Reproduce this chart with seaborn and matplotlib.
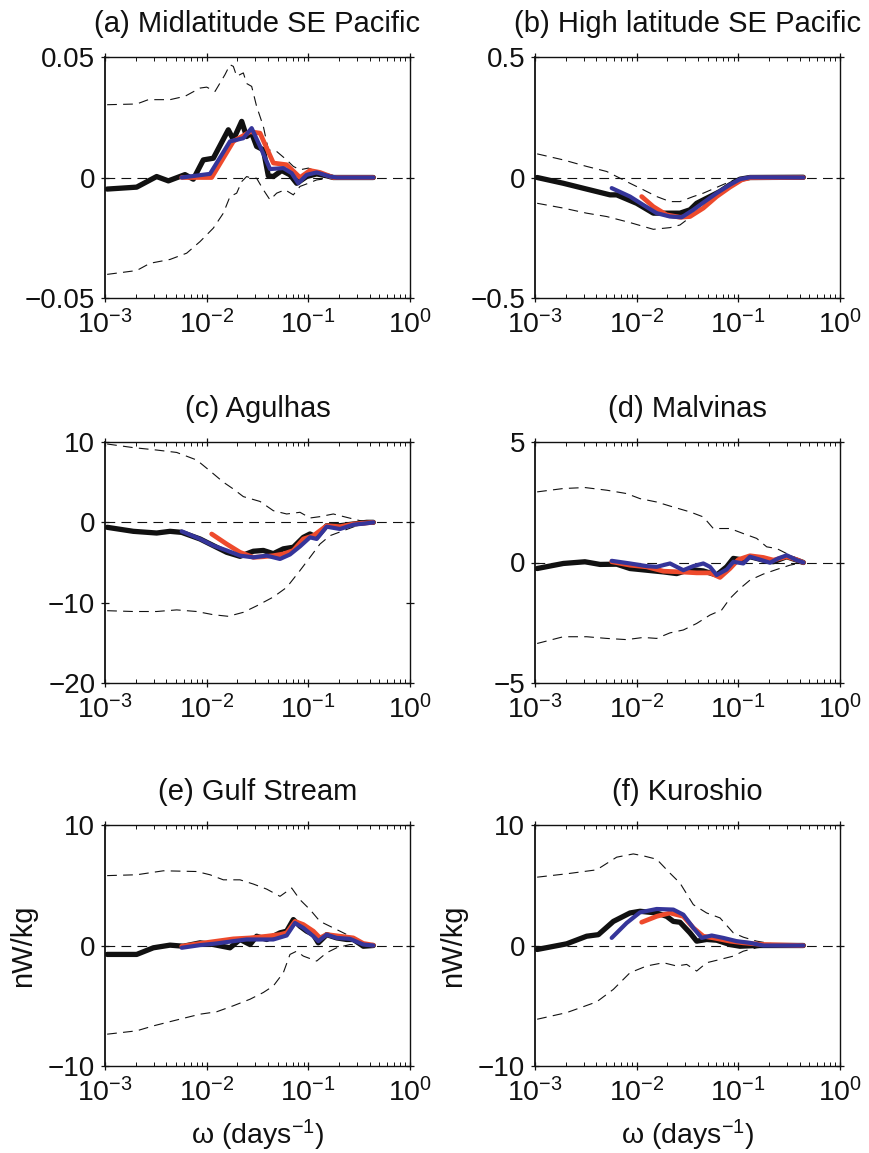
import matplotlib
matplotlib.use("Agg")
import matplotlib.pyplot as plt
from matplotlib.ticker import LogLocator, FixedLocator, FixedFormatter, NullFormatter, NullLocator
import seaborn as sns

sns.set_theme(style="ticks")
plt.rcParams["font.family"] = ["Liberation Sans", "DejaVu Sans"]
plt.rcParams["mathtext.default"] = "regular"
plt.rcParams["lines.scale_dashes"] = False

# ---------------------------------------------------------------------------
# Spectral energy transfer (nW/kg) against frequency (days^-1)
# obs: black, model A: red, model B: blue, bounds: thin dashed
# ---------------------------------------------------------------------------

# (a) Midlatitude SE Pacific
a_obs_f = [0.00105, 0.00205, 0.00322, 0.0042, 0.00612, 0.00739, 0.00927, 0.01163, 0.01633, 0.0183,
           0.0221, 0.0247, 0.0277, 0.0310, 0.0361, 0.0404, 0.0453, 0.0547, 0.0660, 0.0768,
           0.0963, 0.1208, 0.1515, 0.1761, 0.4357]
a_obs = [-0.0048, -0.0040, 0.0004, -0.0014, 0.0012, -0.0007, 0.0073, 0.0080, 0.0198, 0.0157,
         0.0233, 0.0170, 0.0184, 0.0129, 0.0115, 0.0007, 0.0004, 0.0029, 0.0011, -0.0024,
         0.0004, 0.0015, 0.0007, 0.0, 0.0]
a_red_f = [0.00568, 0.0112, 0.0183, 0.0267, 0.0335, 0.0453, 0.0612, 0.0828, 0.1038, 0.1302, 0.1761, 0.4357]
a_red = [0.0, 0.0, 0.0150, 0.0190, 0.0184, 0.0060, 0.0053, 0.0, 0.0029, 0.0021, 0.0, 0.0]
a_blue_f = [0.00568, 0.01078, 0.01696, 0.02295, 0.0277, 0.0335, 0.0420, 0.0568, 0.0686, 0.0797,
            0.0963, 0.1208, 0.1633, 0.19, 0.4357]
a_blue = [0.0, 0.0015, 0.0150, 0.0163, 0.0205, 0.0129, 0.0035, 0.0039, 0.0018, -0.0024,
          0.0011, 0.0021, 0.0004, 0.0, 0.0]
a_hi_f = [0.00105, 0.00205, 0.00267, 0.00436, 0.00612, 0.0086, 0.0100, 0.01208, 0.01515, 0.01696,
          0.0183, 0.01973, 0.02295, 0.02473, 0.02771, 0.0310, 0.0361, 0.0404, 0.0488, 0.0612,
          0.0712, 0.0828, 0.1, 0.1208, 0.1633, 0.2049, 0.4357]
a_hi = [0.0302, 0.0305, 0.0323, 0.0323, 0.0337, 0.0371, 0.0375, 0.0357, 0.0427, 0.0468,
        0.0461, 0.0420, 0.0434, 0.0390, 0.0378, 0.0295, 0.0212, 0.0115, 0.0108, 0.0073,
        0.0046, 0.0032, 0.0039, 0.0025, 0.0007, 0.0, 0.0]
a_lo_f = [0.00105, 0.00205, 0.00277, 0.00436, 0.00636, 0.0086, 0.01163, 0.01459, 0.01696, 0.01973,
          0.0221, 0.02473, 0.02771, 0.0310, 0.0361, 0.0420, 0.0488, 0.05895, 0.0712, 0.0828,
          0.1, 0.1208, 0.1633, 0.2049, 0.4357]
a_lo = [-0.0402, -0.0386, -0.0356, -0.0340, -0.0314, -0.0266, -0.0210, -0.0148, -0.0079, -0.0065,
        -0.0017, 0.0004, -0.0003, -0.0003, -0.0051, -0.0093, -0.0065, -0.0051, -0.0072, -0.0037,
        -0.0024, -0.0010, -0.0003, 0.0, 0.0]

# (b) High latitude SE Pacific
b_obs_f = [0.00105, 0.0019, 0.00322, 0.00547, 0.00636, 0.0100, 0.01459, 0.02128, 0.02668, 0.03346,
           0.03892, 0.05264, 0.06602, 0.08279, 0.1038, 0.1302, 0.4357]
b_obs = [0.0, -0.024, -0.048, -0.072, -0.072, -0.107, -0.148, -0.148, -0.148, -0.134,
         -0.107, -0.079, -0.058, -0.030, -0.007, 0.0, 0.001]
b_red_f = [0.0112, 0.01459, 0.01973, 0.02668, 0.03346, 0.04525, 0.06121, 0.08279, 0.1078, 0.1302, 0.4357]
b_red = [-0.079, -0.121, -0.155, -0.165, -0.162, -0.127, -0.079, -0.040, -0.010, -0.001, 0.0]
b_blue_f = [0.00568, 0.0086, 0.01163, 0.01573, 0.02128, 0.02771, 0.03609, 0.04525, 0.06121, 0.08279,
            0.1038, 0.1302, 0.4357]
b_blue = [-0.044, -0.079, -0.114, -0.148, -0.162, -0.165, -0.134, -0.104, -0.065, -0.030,
          -0.007, 0.001, 0.0]
b_hi_f = [0.00105, 0.0019, 0.00322, 0.00507, 0.0086, 0.01163, 0.01573, 0.02128, 0.02668, 0.03609,
          0.04525, 0.06602, 0.08279, 0.1038, 0.1302, 0.4357]
b_hi = [0.098, 0.073, 0.046, 0.025, -0.024, -0.051, -0.079, -0.100, -0.100, -0.079,
        -0.065, -0.035, -0.017, 0.0, 0.004, 0.0]
b_lo_f = [0.00105, 0.0019, 0.00322, 0.00507, 0.0086, 0.01459, 0.02128, 0.02668, 0.03609, 0.0488,
          0.06602, 0.08279, 0.1038, 0.1302, 0.4357]
b_lo = [-0.107, -0.127, -0.148, -0.162, -0.187, -0.215, -0.208, -0.197, -0.155, -0.107,
        -0.058, -0.024, -0.007, 0.0, 0.0]

# (c) Agulhas
c_obs_f = [0.00105, 0.0019, 0.00322, 0.00436, 0.00568, 0.0086, 0.01163, 0.01573, 0.02128, 0.02877,
           0.03609, 0.04525, 0.05676, 0.0712, 0.08929, 0.1038, 0.1208, 0.1515, 0.2049, 0.2771,
           0.3748, 0.4357]
c_obs = [-0.62, -1.12, -1.33, -1.12, -1.25, -2.07, -2.90, -3.73, -4.23, -3.60,
         -3.50, -3.90, -3.30, -3.10, -1.87, -1.45, -1.87, -0.42, -0.42, -0.21,
         0.0, 0.0]
c_red_f = [0.0112, 0.01573, 0.02128, 0.02877, 0.03609, 0.04525, 0.05676, 0.0712, 0.08929, 0.1120,
           0.1515, 0.2049, 0.2771, 0.4357]
c_red = [-1.45, -2.70, -3.73, -4.36, -4.28, -4.15, -3.94, -3.50, -2.07, -1.66,
         -0.42, -0.54, -0.21, 0.0]
c_blue_f = [0.00568, 0.0086, 0.01163, 0.01573, 0.02128, 0.02877, 0.03892, 0.05264, 0.06602, 0.08279,
            0.1038, 0.1208, 0.1515, 0.2049, 0.2771, 0.3748, 0.4357]
c_blue = [-1.12, -2.07, -2.90, -3.50, -4.15, -4.36, -4.15, -4.56, -4.00, -3.00,
          -1.87, -2.07, -0.54, -0.83, -0.29, -0.12, 0.0]
c_hi_f = [0.00105, 0.0019, 0.00322, 0.00507, 0.00797, 0.01078, 0.01459, 0.0183, 0.02295, 0.03346,
          0.04525, 0.06121, 0.08279, 0.1038, 0.1302, 0.1761, 0.2382, 0.3222, 0.4357]
c_hi = [9.75, 9.30, 9.00, 8.70, 7.76, 6.40, 5.00, 4.15, 3.20, 2.60,
        1.45, 1.04, 1.25, 0.54, 0.71, 1.04, 0.62, 0.21, 0.0]
c_lo_f = [0.00105, 0.0019, 0.00322, 0.00507, 0.00797, 0.01163, 0.01633, 0.02295, 0.03103, 0.04525,
          0.06121, 0.08279, 0.1038, 0.1302, 0.1633, 0.2210, 0.2988, 0.4357]
c_lo = [-11.0, -11.1, -11.1, -10.9, -11.1, -11.5, -11.7, -11.2, -10.4, -9.3,
        -8.1, -6.0, -4.36, -2.70, -1.66, -1.04, -0.42, 0.0]

# (d) Malvinas
d_obs_f = [0.00105, 0.0019, 0.0031, 0.00436, 0.00636, 0.0086, 0.01254, 0.0183, 0.02473, 0.03346,
           0.04525, 0.06121, 0.07677, 0.08929, 0.1120, 0.1302, 0.1761, 0.2210, 0.2988, 0.3748,
           0.4357]
d_obs = [-0.25, -0.04, 0.03, -0.08, -0.07, -0.25, -0.32, -0.39, -0.46, -0.29,
         -0.35, -0.52, -0.18, 0.17, 0.10, 0.24, 0.10, 0.03, 0.24, 0.10,
         0.0]
d_red_f = [0.00568, 0.0086, 0.01254, 0.0183, 0.02668, 0.03892, 0.05264, 0.06602, 0.08279, 0.1,
           0.1302, 0.1761, 0.2210, 0.2988, 0.3748, 0.4357]
d_red = [0.03, -0.11, -0.18, -0.36, -0.39, -0.43, -0.43, -0.62, -0.25, 0.12,
         0.28, 0.21, 0.10, 0.24, 0.12, 0.0]
d_blue_f = [0.00568, 0.0086, 0.01254, 0.01573, 0.02128, 0.02877, 0.03609, 0.04525, 0.05264, 0.06121,
            0.07677, 0.08929, 0.1120, 0.1302, 0.1633, 0.2049, 0.2473, 0.2988, 0.3748, 0.4357]
d_blue = [0.07, -0.04, -0.15, -0.18, -0.04, -0.32, -0.15, -0.04, -0.18, -0.52,
          -0.29, 0.03, -0.04, 0.24, 0.12, -0.01, 0.17, 0.30, 0.10, 0.0]
d_hi_f = [0.00105, 0.0019, 0.0031, 0.00507, 0.00797, 0.01078, 0.01573, 0.02295, 0.03346, 0.04525,
          0.05676, 0.08279, 0.1120, 0.1515, 0.19, 0.2382, 0.2988, 0.3748, 0.4357]
d_hi = [2.93, 3.07, 3.11, 3.00, 2.86, 2.65, 2.51, 2.30, 2.10, 1.89,
        1.41, 1.41, 1.20, 1.00, 0.65, 0.58, 0.37, 0.17, 0.0]
d_lo_f = [0.00105, 0.0019, 0.00322, 0.00507, 0.00797, 0.01163, 0.01573, 0.02128, 0.02877, 0.03892,
          0.05264, 0.06856, 0.08279, 0.1038, 0.1302, 0.1761, 0.2382, 0.3222, 0.4357]
d_lo = [-3.36, -3.08, -3.08, -3.15, -3.20, -3.11, -3.15, -2.92, -2.80, -2.53,
        -2.18, -1.97, -1.49, -1.08, -0.73, -0.48, -0.29, -0.11, 0.0]

# (e) Gulf Stream
e_obs_f = [0.00105, 0.00205, 0.00299, 0.00436, 0.0059, 0.0086, 0.01163, 0.01696, 0.02128, 0.02668,
           0.03103, 0.03892, 0.05264, 0.06121, 0.0712, 0.08279, 0.0963, 0.1120, 0.1254, 0.1515,
           0.19, 0.2382, 0.2771, 0.3475, 0.4357]
e_obs = [-0.74, -0.74, -0.19, 0.03, -0.06, 0.22, 0.08, -0.19, 0.50, 0.08,
         0.77, 0.50, 1.05, 1.19, 2.15, 1.60, 1.19, 0.91, 0.22, 0.90,
         0.63, 0.50, 0.50, -0.06, 0.0]
e_red_f = [0.00568, 0.0086, 0.01254, 0.0183, 0.02668, 0.03892, 0.05264, 0.06121, 0.07393, 0.08929,
           0.1120, 0.1302, 0.1515, 0.2049, 0.2771, 0.3475, 0.4357]
e_red = [-0.06, 0.17, 0.36, 0.55, 0.63, 0.77, 0.91, 1.05, 2.00, 1.74,
         1.19, 0.63, 0.91, 0.77, 0.63, 0.17, 0.03]
e_blue_f = [0.00568, 0.0086, 0.01254, 0.0183, 0.02473, 0.03346, 0.04525, 0.06121, 0.07393, 0.08929,
            0.1120, 0.1254, 0.1515, 0.19, 0.2569, 0.3475, 0.4357]
e_blue = [-0.19, 0.03, 0.17, 0.36, 0.50, 0.50, 0.50, 0.83, 1.87, 1.46,
          0.77, 0.36, 0.90, 0.63, 0.55, 0.08, 0.0]
e_hi_f = [0.00105, 0.00205, 0.00375, 0.00797, 0.01078, 0.01459, 0.02128, 0.02877, 0.03892, 0.05264,
          0.06856, 0.08279, 0.1038, 0.1302, 0.1761, 0.2210, 0.2988, 0.4357]
e_hi = [5.80, 5.87, 6.20, 6.14, 5.87, 5.45, 5.45, 5.10, 4.68, 4.08,
        4.77, 3.80, 2.98, 2.00, 1.46, 1.05, 0.50, 0.0]
e_lo_f = [0.00105, 0.00205, 0.00299, 0.0047, 0.0086, 0.01254, 0.0183, 0.02668, 0.03609, 0.04525,
          0.05676, 0.06602, 0.07677, 0.08929, 0.1208, 0.1515, 0.19, 0.2569, 0.4357]
e_lo = [-7.36, -7.08, -6.67, -6.25, -5.70, -5.50, -5.00, -4.46, -3.90, -3.36,
        -2.26, -0.74, -0.47, -0.88, -1.29, -0.60, -0.19, 0.08, 0.0]

# (f) Kuroshio
f_obs_f = [0.00105, 0.00205, 0.00322, 0.0042, 0.0059, 0.0086, 0.01078, 0.01573, 0.01973, 0.02295,
           0.02668, 0.03346, 0.03892, 0.0488, 0.06121, 0.08279, 0.1038, 0.1515, 0.4357]
f_obs = [-0.33, 0.14, 0.77, 0.90, 2.00, 2.70, 2.84, 2.70, 2.42, 2.00,
         1.93, 1.05, 0.36, 0.50, 0.44, 0.08, -0.06, 0.0, 0.0]
f_red_f = [0.0112, 0.01573, 0.02128, 0.02877, 0.03609, 0.04525, 0.05676, 0.08279, 0.1120, 0.1761, 0.4357]
f_red = [1.93, 2.42, 2.70, 2.42, 1.46, 0.77, 0.63, 0.36, 0.22, 0.08, 0.0]
f_blue_f = [0.00568, 0.00797, 0.01078, 0.01573, 0.02295, 0.02877, 0.03609, 0.04358, 0.05466, 0.0712,
            0.0963, 0.1302, 0.1761, 0.4357]
f_blue = [0.63, 1.87, 2.75, 3.03, 2.98, 2.56, 1.46, 0.63, 0.83, 0.63,
          0.36, 0.22, 0.0, 0.0]
f_hi_f = [0.00105, 0.00205, 0.00404, 0.00636, 0.00927, 0.01163, 0.01573, 0.02128, 0.02668, 0.03609,
          0.0488, 0.06602, 0.08929, 0.1120, 0.1515, 0.2049, 0.4357]
f_hi = [5.67, 5.95, 6.28, 7.33, 7.60, 7.44, 7.16, 6.00, 5.18, 3.39,
        2.70, 2.29, 1.05, 0.69, 0.36, 0.17, 0.0]
f_lo_f = [0.00105, 0.00205, 0.00404, 0.0059, 0.0086, 0.01254, 0.0183, 0.02473, 0.03103, 0.03892,
          0.0488, 0.06602, 0.08929, 0.1120, 0.1515, 0.2049, 0.4357]
f_lo = [-6.12, -5.57, -4.68, -3.64, -2.26, -1.70, -1.43, -1.70, -1.57, -2.12,
        -1.43, -1.16, -0.88, -0.47, -0.19, -0.06, 0.0]

titles = ["(a) Midlatitude SE Pacific", "(b) High latitude SE Pacific", "(c) Agulhas",
          "(d) Malvinas", "(e) Gulf Stream", "(f) Kuroshio"]
y_ticks = [[-0.05, 0, 0.05], [-0.5, 0, 0.5], [-20, -10, 0, 10],
           [-5, 0, 5], [-10, 0, 10], [-10, 0, 10]]
y_labels = [["\u22120.05", "0", "0.05"], ["\u22120.5", "0", "0.5"], ["\u221220", "\u221210", "0", "10"],
            ["\u22125", "0", "5"], ["\u221210", "0", "10"], ["\u221210", "0", "10"]]

series = [
    (a_obs_f, a_obs, a_red_f, a_red, a_blue_f, a_blue, a_hi_f, a_hi, a_lo_f, a_lo),
    (b_obs_f, b_obs, b_red_f, b_red, b_blue_f, b_blue, b_hi_f, b_hi, b_lo_f, b_lo),
    (c_obs_f, c_obs, c_red_f, c_red, c_blue_f, c_blue, c_hi_f, c_hi, c_lo_f, c_lo),
    (d_obs_f, d_obs, d_red_f, d_red, d_blue_f, d_blue, d_hi_f, d_hi, d_lo_f, d_lo),
    (e_obs_f, e_obs, e_red_f, e_red, e_blue_f, e_blue, e_hi_f, e_hi, e_lo_f, e_lo),
    (f_obs_f, f_obs, f_red_f, f_red, f_blue_f, f_blue, f_hi_f, f_hi, f_lo_f, f_lo),
]

RED = "#EE4A2C"
BLUE = "#35359A"
BLACK = "#111111"
DASH = (0, (7, 4.5))

W, H = 869, 1153
fig = plt.figure(figsize=(W / 100, H / 100), dpi=100)
fig.patch.set_facecolor("white")

col_left = [105, 535]
row_top = [57, 442, 825]
ax_w, ax_h = 305, 241


def line(ax, x, y, color, lw, ls="-", z=2):
    sns.lineplot(x=x, y=y, ax=ax, color=color, linewidth=lw, linestyle=ls,
                 estimator=None, sort=False, zorder=z)


for i, (title, yt, yl, s) in enumerate(zip(titles, y_ticks, y_labels, series)):
    r, c = divmod(i, 2)
    left = col_left[c] / W
    bottom = 1 - (row_top[r] + ax_h) / H
    ax = fig.add_axes([left, bottom, ax_w / W, ax_h / H])
    ax.set_facecolor("white")

    obs_f, obs, red_f, red, blue_f, blue, hi_f, hi, lo_f, lo = s
    ax.axhline(0, color=BLACK, lw=0.8, ls=DASH, zorder=1)
    line(ax, hi_f, hi, BLACK, 0.8, DASH, 1)
    line(ax, lo_f, lo, BLACK, 0.8, DASH, 1)
    line(ax, obs_f, obs, BLACK, 3.8, z=3)
    line(ax, red_f, red, RED, 3.4, z=4)
    line(ax, blue_f, blue, BLUE, 3.0, z=5)

    ax.set_xscale("log")
    ax.set_xlim(1e-3, 1)
    ax.set_ylim(yt[0], yt[-1])
    ax.xaxis.set_major_locator(LogLocator(base=10, numticks=10))
    ax.xaxis.set_minor_locator(LogLocator(base=10, subs=range(2, 10), numticks=10))
    ax.xaxis.set_minor_formatter(NullFormatter())
    ax.yaxis.set_major_locator(FixedLocator(yt))
    ax.yaxis.set_major_formatter(FixedFormatter(yl))
    ax.yaxis.set_minor_locator(NullLocator())

    for sp in ax.spines.values():
        sp.set_visible(True)
        sp.set_color(BLACK)
        sp.set_linewidth(1.0)
    ax.spines["left"].set_linewidth(1.3)

    ax.tick_params(which="major", direction="inout", length=6, width=0.9, color=BLACK,
                   top=True, right=True, labelcolor=BLACK)
    ax.tick_params(which="minor", direction="in", length=3, width=0.7, color=BLACK,
                   top=True, right=True)
    ax.tick_params(axis="x", which="major", labelsize=20.5, pad=6)
    ax.tick_params(axis="y", which="major", labelsize=20, pad=4)
    ax.grid(False)

    ax.set_title(title, fontsize=21, color=BLACK, pad=18)
    ax.set_xlabel("")
    ax.set_ylabel("")
    if r == 2:
        ax.set_ylabel("nW/kg", fontsize=21, color=BLACK)
        ax.yaxis.set_label_coords(-0.223, 0.5)
        ax.set_xlabel("\u03c9 (days$^{-1}$)", fontsize=20.5, color=BLACK)
        ax.xaxis.set_label_coords(0.5, -0.215)

fig.savefig("out.png", dpi=100, facecolor="white")
